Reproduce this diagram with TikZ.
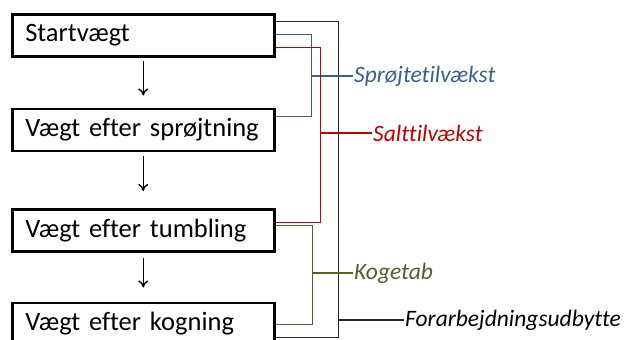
\documentclass[tikz,border=0pt]{standalone}
\usepackage{fontspec}
\setmainfont{Carlito}[Ligatures=CommonOff]
\usepackage{xcolor}
\usetikzlibrary{positioning,calc,arrows.meta}
\definecolor{sprayblue}{HTML}{376092}
\definecolor{saltred}{HTML}{C00000}
\definecolor{cookgreen}{HTML}{4F6228}
\definecolor{yieldgray}{HTML}{262626}
\tikzset{
  vbox/.style={draw, line width=2.5pt, minimum width=262pt, minimum height=42pt,
    text width=236pt, align=left, inner xsep=13pt,
    font=\fontsize{26.5}{30}\selectfont},
  flow/.style={-{To[length=7pt,width=10pt]}, line width=1.4pt},
  link/.style={line width=1.2pt},
  lbl/.style={anchor=west, inner sep=1pt, font=\fontsize{23.5}{27}\selectfont\itshape},
}

\begin{document}
\begin{tikzpicture}[x=1pt,y=-1pt]
        \clip (0,0) rectangle (627,340);

        % Weight boxes
        \node[vbox, anchor=north west] (start) at (11,13) {Startvægt};
        \node[vbox, below=50pt of start] (spray) {Vægt efter sprøjtning};
        \node[vbox, below=56pt of spray] (tumble) {Vægt efter tumbling};
        \node[vbox, below=49pt of tumble] (cook) {Vægt efter kogning};

        % Flow arrows
        \draw[flow, shorten <=3pt, shorten >=12pt] (start.south) -- (spray.north);
        \draw[flow, shorten <=4pt, shorten >=17pt] (spray.south) -- (tumble.north);
        \draw[flow, shorten <=5pt, shorten >=14pt] (tumble.south) -- (cook.north);

        % Labels
        \node[lbl, text=sprayblue] (spraylbl) at (353,76) {Sprøjtetilvækst};
        \node[lbl, text=saltred] (saltlbl) at (372,133) {Salttilvækst};
        \node[lbl, text=cookgreen] (cooklbl) at (353,273) {Kogetab};
        \node[lbl, text=black] (yieldlbl) at (404,320) {Forarbejdningsudbytte};

        % Bar ends on the boxes
        \coordinate (yieldtop) at ($(start.east)+(0,-14)$);
        \coordinate (spraytop) at ($(start.east)+(0,-1)$);
        \coordinate (salttop) at ($(start.east)+(0,12)$);
        \coordinate (cooktop) at ($(tumble.east)+(0,-5)$);
        \coordinate (spraybot) at ($(spray.east)+(0,-13)$);
        \coordinate (saltbot) at ($(tumble.east)+(0,-8)$);
        \coordinate (cookbot) at ($(cook.east)+(0,1)$);
        \coordinate (yieldbot) at ($(cook.east)+(0,14)$);

        % Bars
        \coordinate (yieldbar) at ($(start.east)+(63,0)$);
        \coordinate (saltbar) at ($(start.east)+(45,0)$);
        \coordinate (spraybar) at ($(start.east)+(36,0)$);
        \coordinate (cookbar) at ($(tumble.east)+(37,0)$);

        % Yield bracket
        \draw[link, yieldgray] (yieldtop) -- (yieldtop -| yieldbar) |- (yieldbot);
        \draw[link, yieldgray] (yieldlbl.west -| yieldbar) -- (yieldlbl.west);

        % Spray bracket
        \draw[link, sprayblue] (spraytop) -- (spraytop -| spraybar) |- (spraybot);
        \draw[link, sprayblue] (spraylbl.west -| spraybar) -- (spraylbl.west);

        % Salt bracket
        \draw[link, saltred] (salttop) -- (salttop -| saltbar) |- (saltbot);
        \draw[link, saltred] (saltlbl.west -| saltbar) -- (saltlbl.west);

        % Cook bracket
        \draw[link, cookgreen] (cooktop) -- (cooktop -| cookbar) |- (cookbot);
        \draw[link, cookgreen] (cooklbl.west -| cookbar) -- (cooklbl.west);
    \end{tikzpicture}
\end{document}
